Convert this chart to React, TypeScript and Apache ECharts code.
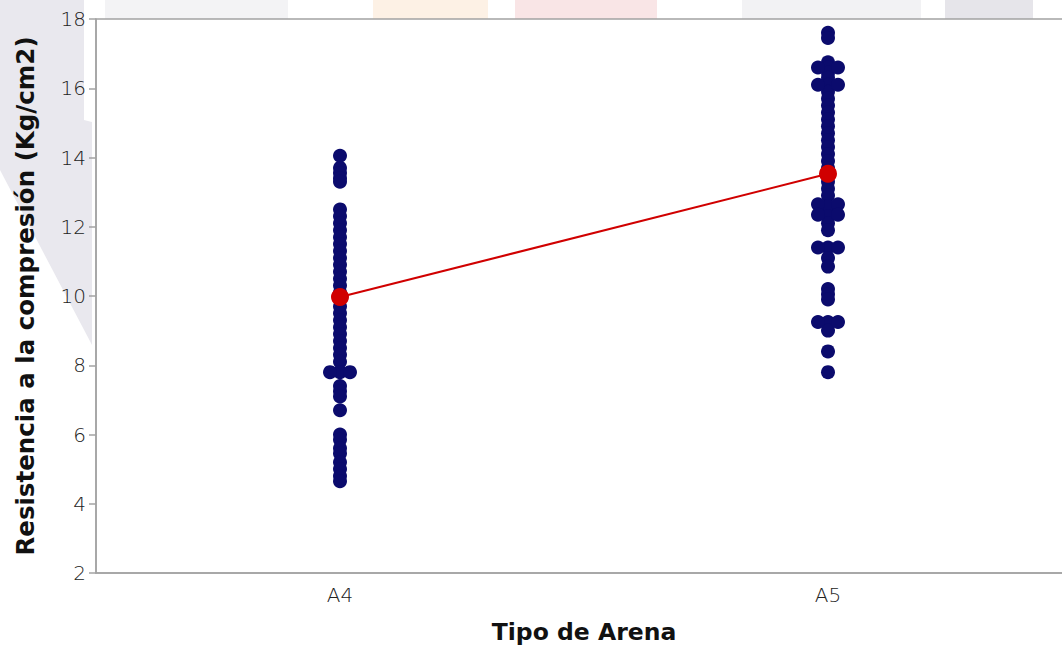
import React, { useEffect, useRef } from "react";
import * as echarts from "echarts";

// Sand types on the category axis
const categories = ["A4", "A5"];

// Compressive strength readings (Kg/cm2), one column per sand type
const a4Values = [
  14.05, 13.7, 13.55, 13.4, 13.3, 12.5, 12.3, 12.1, 11.9, 11.7, 11.5, 11.3,
  11.1, 10.9, 10.7, 10.5, 10.3, 10.1, 9.9, 9.7, 9.5, 9.3, 9.1, 8.9, 8.7, 8.5,
  8.3, 8.1, 7.8, 7.4, 7.25, 7.1, 6.7, 6.0, 5.85, 5.6, 5.45, 5.2, 5.0, 4.8,
  4.65,
];
const a5Values = [
  17.6, 17.45, 16.75, 16.6, 16.45, 16.3, 16.1, 15.9, 15.7, 15.5, 15.3, 15.1,
  14.9, 14.7, 14.5, 14.3, 14.1, 13.9, 13.7, 13.5, 13.3, 13.1, 12.9, 12.6,
  12.3, 12.1, 11.9, 11.4, 11.1, 10.85, 10.2, 10.05, 9.9, 9.25, 9.0, 8.4, 7.8,
];

// Repeated readings drawn beside the column (same value on both sides)
const a4Repeated = [7.8];
const a5Repeated = [16.6, 16.1, 12.65, 12.35, 11.4, 9.25];

// Group means joined by the red line
const means = [9.97, 13.53];

// Y-axis range
const yMin = 2;
const yMax = 18;
const yStep = 2;

const NAVY = "#0b0b6d";
const RED = "#d00000";
const AXIS_GRAY = "#a3a3a3";
const FONT = "DejaVu Sans";

function pairs(cat: string, vals: number[]) {
  return vals.map((v) => [cat, v]);
}

export default function App() {
  const ref = useRef<HTMLDivElement>(null);

  useEffect(() => {
    if (!ref.current) return;
    const chart = echarts.init(ref.current, undefined, { renderer: "svg" });

    const repeated = [
      ...pairs(categories[0], a4Repeated),
      ...pairs(categories[1], a5Repeated),
    ];

    const titleStyle = {
      fontFamily: FONT,
      fontWeight: "bold",
      color: "#111",
    };
    const tickStyle = {
      fontFamily: FONT,
      fontWeight: 200,
      fontSize: 20,
      color: "#222",
    };

    chart.setOption({
      animation: false,
      backgroundColor: "#ffffff",
      graphic: [
        // faint backdrop shapes behind the plot
        {
          type: "polygon",
          z: -100,
          silent: true,
          shape: {
            points: [
              [0, 0], [84, 0], [84, 120], [92, 122], [92, 345], [0, 170],
            ],
          },
          style: { fill: "#e9e8ee" },
        },
        { type: "rect", z: -100, silent: true, shape: { x: 105, y: 0, width: 183, height: 19 }, style: { fill: "#f3f3f5" } },
        { type: "rect", z: -100, silent: true, shape: { x: 373, y: 0, width: 115, height: 19 }, style: { fill: "#fdf1e5" } },
        { type: "rect", z: -100, silent: true, shape: { x: 515, y: 0, width: 142, height: 19 }, style: { fill: "#f9e5e6" } },
        { type: "rect", z: -100, silent: true, shape: { x: 742, y: 0, width: 179, height: 19 }, style: { fill: "#f2f2f4" } },
        { type: "rect", z: -100, silent: true, shape: { x: 945, y: 0, width: 88, height: 19 }, style: { fill: "#e6e5ea" } },
      ],
      grid: {
        left: 96,
        top: 19,
        width: 976,
        height: 554,
        outerBoundsMode: "none",
        containLabel: false,
        show: true,
        borderColor: AXIS_GRAY,
        borderWidth: 1.5,
        backgroundColor: "transparent",
      },
      xAxis: {
        type: "category",
        data: categories,
        boundaryGap: true,
        name: "Tipo de Arena",
        nameLocation: "middle",
        nameGap: 47,
        nameTextStyle: { ...titleStyle, fontSize: 23.5 },
        axisLine: { lineStyle: { color: AXIS_GRAY, width: 1.5 } },
        axisTick: { alignWithLabel: true, length: 6, lineStyle: { color: AXIS_GRAY, width: 1.5 } },
        axisLabel: { ...tickStyle, margin: 12 },
        splitLine: { show: false },
      },
      yAxis: {
        type: "value",
        min: yMin,
        max: yMax,
        interval: yStep,
        name: "Resistencia a la compresión (Kg/cm2)",
        nameLocation: "middle",
        nameGap: 58,
        nameTextStyle: { ...titleStyle, fontSize: 24.5 },
        axisLine: { show: true, lineStyle: { color: AXIS_GRAY, width: 1.5 } },
        axisTick: { show: true, length: 7, lineStyle: { color: AXIS_GRAY, width: 1.5 } },
        axisLabel: { ...tickStyle, margin: 10 },
        splitLine: { show: false },
      },
      series: [
        {
          type: "scatter",
          data: [...pairs(categories[0], a4Values), ...pairs(categories[1], a5Values)],
          symbolSize: 14,
          itemStyle: { color: NAVY, opacity: 1 },
          z: 2,
        },
        {
          type: "scatter",
          data: repeated,
          symbolSize: 14,
          symbolOffset: [-10, 0],
          itemStyle: { color: NAVY, opacity: 1 },
          z: 2,
        },
        {
          type: "scatter",
          data: repeated,
          symbolSize: 14,
          symbolOffset: [10, 0],
          itemStyle: { color: NAVY, opacity: 1 },
          z: 2,
        },
        {
          type: "line",
          data: categories.map((c, i) => [c, means[i]]),
          symbol: "circle",
          symbolSize: 18,
          showSymbol: true,
          lineStyle: { color: RED, width: 2 },
          itemStyle: { color: RED, opacity: 1 },
          z: 5,
        },
      ],
    });

    return () => chart.dispose();
  }, []);

  return (
    <div
      ref={ref}
      style={{ position: "fixed", left: 0, top: 0, width: 1062, height: 648 }}
    />
  );
}
